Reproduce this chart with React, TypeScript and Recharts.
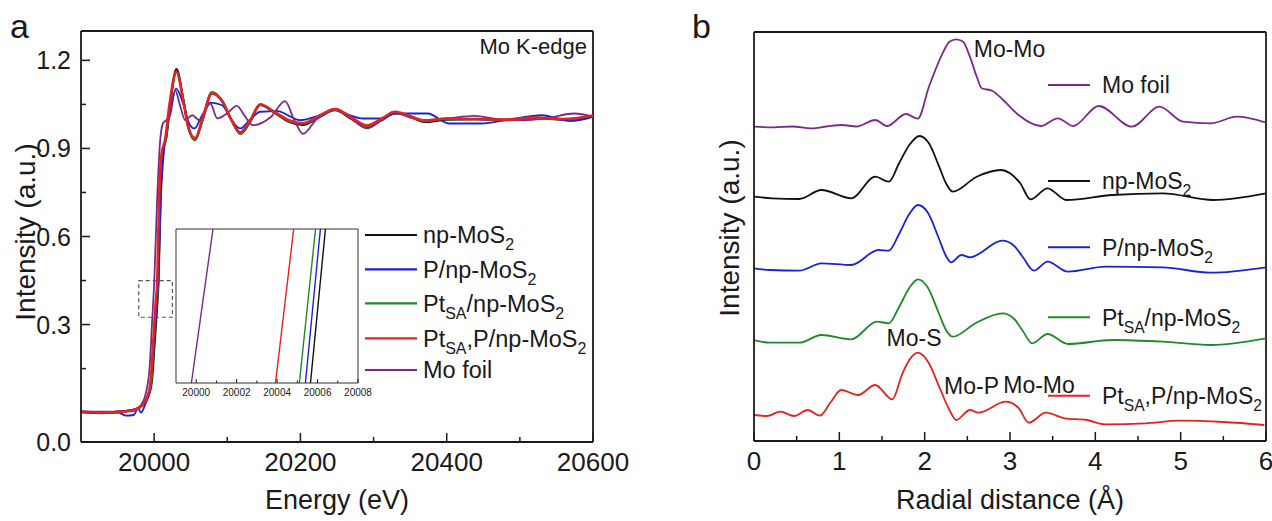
import React from 'react';
import { LineChart, Line, XAxis, YAxis, ReferenceLine, ReferenceArea } from 'recharts';

const FONT = '"Liberation Sans", Arial, Helvetica, sans-serif';
const INK = '#1a1a1a';

type Pt = [number, number];

// ---------- panel a: Mo K-edge XANES (energy eV, normalized intensity) ----------
const xanesNp: Pt[] = [
  [19900, 0.002], [19930, 0.0], [19960, 0.005], [19975, 0.012], [19985, 0.028], [19992, 0.055],
  [19997, 0.11], [20001, 0.25], [20004, 0.36], [20006, 0.45], [20009, 0.76], [20012, 0.89],
  [20016.5, 0.935], [20022, 1.05], [20030.5, 1.17], [20040, 1.065], [20047, 0.97], [20056, 0.93],
  [20066, 0.995], [20079, 1.09], [20093, 1.06], [20105, 1.0], [20118, 0.95], [20130, 0.985],
  [20145, 1.048], [20164, 1.022], [20185, 0.99], [20203, 0.98], [20225, 1.005], [20247, 1.03],
  [20270, 1.0], [20291, 0.972], [20310, 0.995], [20330, 1.02], [20350, 1.008], [20369, 0.99],
  [20400, 0.998], [20440, 1.0], [20480, 0.996], [20520, 1.003], [20560, 0.998], [20600, 1.01],
];
const xanesP: Pt[] = [
  [19900, 0.002], [19930, -0.002], [19950, 0.0], [19962, -0.01], [19972, -0.008], [19978, 0.015],
  [19982, 0.0], [19988, 0.03], [19994, 0.08], [19998, 0.18], [20002, 0.32], [20005.7, 0.45],
  [20009, 0.72], [20012, 0.85], [20017, 0.96], [20023, 1.04], [20030, 1.104], [20040, 1.05],
  [20047, 0.99], [20055, 0.968], [20065, 1.01], [20077, 1.056], [20093, 1.047], [20105, 1.0],
  [20118, 0.968], [20130, 0.995], [20145, 1.025], [20169, 1.027], [20185, 1.01], [20199, 0.996],
  [20225, 1.012], [20247, 1.034], [20265, 1.015], [20286, 1.002], [20310, 1.002], [20330, 1.019],
  [20374, 1.019], [20403, 0.985], [20447, 0.985], [20486, 0.999], [20530, 1.013], [20569, 0.993],
  [20600, 1.008],
];
const xanesPtSA: Pt[] = [
  [19900, 0.003], [19930, 0.001], [19960, 0.004], [19975, 0.011], [19984, 0.026], [19991, 0.052],
  [19996, 0.105], [20000, 0.25], [20003, 0.36], [20005.5, 0.45], [20008.3, 0.76], [20011.3, 0.885],
  [20016, 0.93], [20021.5, 1.048], [20030.5, 1.16], [20040, 1.062], [20047, 0.968], [20056, 0.928],
  [20066, 0.998], [20079, 1.092], [20093, 1.062], [20105, 1.0], [20118, 0.952], [20130, 0.988],
  [20145, 1.048], [20164, 1.024], [20185, 0.992], [20203, 0.984], [20225, 1.008], [20247, 1.032],
  [20270, 1.003], [20291, 0.975], [20310, 0.998], [20330, 1.022], [20350, 1.01], [20369, 0.993],
  [20400, 1.0], [20440, 1.0], [20480, 0.997], [20520, 1.004], [20560, 0.999], [20600, 1.011],
];
const xanesPtSAP: Pt[] = [
  [19900, 0.003], [19930, 0.0], [19960, 0.004], [19975, 0.01], [19983, 0.025], [19990, 0.05],
  [19995, 0.1], [19999, 0.25], [20002, 0.37], [20004.3, 0.45], [20007, 0.75], [20010, 0.88],
  [20015, 0.93], [20021, 1.05], [20030.5, 1.162], [20040, 1.06], [20047, 0.97], [20056, 0.935],
  [20066, 1.0], [20079, 1.087], [20093, 1.062], [20105, 1.0], [20118, 0.955], [20130, 0.99],
  [20145, 1.05], [20164, 1.025], [20185, 0.995], [20203, 0.986], [20225, 1.01], [20247, 1.034],
  [20270, 1.005], [20291, 0.978], [20310, 1.0], [20330, 1.025], [20350, 1.01], [20369, 0.995],
  [20400, 1.002], [20440, 1.0], [20480, 0.998], [20520, 1.005], [20560, 1.0], [20600, 1.012],
];
const xanesMoFoil: Pt[] = [
  [19900, 0.005], [19930, 0.003], [19960, 0.006], [19975, 0.012], [19983, 0.03], [19989, 0.07],
  [19994, 0.16], [19997, 0.3], [20000.2, 0.45], [20004, 0.72], [20008, 0.92], [20012, 0.985],
  [20016, 0.995], [20021.5, 1.01], [20028.8, 1.098], [20035, 1.05], [20042.5, 0.996], [20052, 1.013],
  [20062, 0.996], [20076.7, 1.053], [20086.4, 1.002], [20100, 1.02], [20113, 1.045], [20124, 1.01],
  [20135, 0.979], [20159.5, 1.007], [20179, 1.061], [20191, 1.0], [20203.4, 0.95], [20222.9, 1.002],
  [20249.7, 1.034], [20270, 1.0], [20291.3, 0.968], [20310, 0.995], [20327.8, 1.025], [20350, 1.005],
  [20369, 0.996], [20400, 1.002], [20437.6, 1.011], [20470, 1.0], [20506, 0.996], [20540, 1.005],
  [20574, 1.019], [20600, 1.008],
];

// inset: edge position (eV) where each curve crosses 0.40 and 0.50
const insetNp: Pt[] = [[20005.65, 0.4], [20006.39, 0.5]];
const insetP: Pt[] = [[20005.4, 0.4], [20006.14, 0.5]];
const insetPtSA: Pt[] = [[20005.1, 0.4], [20005.9, 0.5]];
const insetPtSAP: Pt[] = [[20003.92, 0.4], [20004.82, 0.5]];
const insetMoFoil: Pt[] = [[19999.76, 0.4], [20000.83, 0.5]];

const energyTicks = [20000, 20100, 20200, 20300, 20400, 20500, 20600];
const energyMajor = [20000, 20200, 20400, 20600];
const intensityTicks = [-0.1, 0.15, 0.3, 0.45, 0.6, 0.75, 0.9, 1.05, 1.2];
const intensityMajor = [-0.1, 0.3, 0.6, 0.9, 1.2];
const insetTicks = [20000, 20001, 20002, 20003, 20004, 20005, 20006, 20007, 20008];

// ---------- panel b: FT-EXAFS (R in Å, stacked curves) ----------
const ftMoFoil: Pt[] = [
  [0, 0.03], [0.23, -0.03], [0.45, 0.05], [0.67, -0.13], [0.85, 0.05], [1.03, 0.2], [1.2, 0.05],
  [1.42, 0.7], [1.56, 0.1], [1.78, 1.3], [1.92, 0.83], [2.05, 4.03], [2.21, 7.37], [2.29, 8.53],
  [2.37, 8.77], [2.45, 8.53], [2.53, 7.03], [2.61, 5.03], [2.67, 3.87], [2.79, 3.63], [2.92, 2.7],
  [3.1, 1.2], [3.36, 0.1], [3.56, 0.87], [3.74, 0.1], [4.04, 2.1], [4.43, 0.03], [4.75, 2.03],
  [5.03, 0.53], [5.35, 0.37], [5.66, 1.03], [6.0, 0.43],
];
const ftNp: Pt[] = [
  [0, 0.03], [0.21, -0.13], [0.53, -0.2], [0.79, 0.7], [1.14, -0.13], [1.42, 2.03], [1.58, 1.53],
  [1.7, 3.37], [1.82, 5.2], [1.94, 6.1], [2.05, 5.37], [2.17, 3.03], [2.25, 1.37], [2.33, 0.53],
  [2.61, 2.03], [2.89, 2.7], [3.0, 2.37], [3.12, 1.37], [3.24, -0.23], [3.44, 0.87], [3.66, -0.3],
  [4.2, 0.2], [4.79, 0.37], [5.38, -0.3], [6.0, 0.37],
];
const ftP: Pt[] = [
  [0, -0.03], [0.19, -0.2], [0.53, -0.27], [0.79, 0.47], [1.14, 0.3], [1.46, 1.8], [1.58, 1.73],
  [1.7, 3.4], [1.82, 5.4], [1.92, 6.3], [2.04, 5.5], [2.16, 3.1], [2.25, 1.2], [2.31, 0.57],
  [2.43, 1.3], [2.53, 1.07], [2.91, 2.73], [3.05, 2.2], [3.15, 1.1], [3.28, -0.27], [3.44, 0.63],
  [3.68, -0.37], [4.12, 0.13], [4.79, 0.07], [5.35, -0.47], [6.0, 0.07],
];
const ftPtSA: Pt[] = [
  [0, 0], [0.19, -0.27], [0.53, -0.27], [0.79, 0.5], [1.14, 0.07], [1.44, 1.83], [1.58, 1.67],
  [1.7, 3.3], [1.82, 5.2], [1.92, 6.07], [2.04, 5.2], [2.16, 2.8], [2.25, 1.0], [2.33, 0.33],
  [2.6, 1.7], [2.91, 2.67], [3.05, 2.1], [3.15, 0.9], [3.26, -0.33], [3.44, 0.6], [3.68, -0.4],
  [4.2, 0], [4.79, -0.17], [5.35, -0.5], [6.0, 0.17],
];
const ftPtSAP: Pt[] = [
  [0, 0], [0.15, -0.1], [0.31, 0.33], [0.47, -0.1], [0.63, 0.5], [0.77, -0.07], [0.9, 1.3],
  [1.02, 2.5], [1.22, 2.0], [1.42, 3.0], [1.62, 1.57], [1.74, 4.17], [1.82, 5.5], [1.92, 6.23],
  [2.05, 5.17], [2.17, 2.83], [2.29, 0.5], [2.37, -0.5], [2.53, 0.5], [2.63, 0.23], [2.95, 1.33],
  [3.1, 0.7], [3.22, -0.77], [3.42, 0.23], [3.64, -0.33], [3.9, -0.5], [4.12, -0.93], [4.59, -0.83],
  [4.99, -0.57], [5.5, -0.7], [5.98, -1.0],
];
const ftOffsets = { moFoil: 31.4, np: 24.4, p: 17.3, ptSA: 10.1, ptSAP: 2.6 };
const radialTicks = [0, 0.5, 1, 1.5, 2, 2.5, 3, 3.5, 4, 4.5, 5, 5.5, 6];

const C = { np: '#111111', p: '#1c22d4', ptSA: '#1f8a2a', ptSAP: '#e2231f', moFoil: '#7b2a8c' };

const rows = (pts: Pt[], off = 0) => pts.map(([x, y]) => ({ x, y: y + off }));

// text parts: [text, isSubscript]
type Part = [string, boolean?];
const NAMES: Record<string, Part[]> = {
  np: [['np-MoS'], ['2', true]],
  p: [['P/np-MoS'], ['2', true]],
  ptSA: [['Pt'], ['SA', true], ['/np-MoS'], ['2', true]],
  ptSAP: [['Pt'], ['SA', true], [',P/np-MoS'], ['2', true]],
  moFoil: [['Mo foil']],
};

function Rich({ x, y, parts, size, anchor = 'start' }: { x: number; y: number; parts: Part[]; size: number; anchor?: string }) {
  const shift = size * 0.3;
  let sub = false;
  return (
    <text x={x} y={y} fontSize={size} fontFamily={FONT} fill={INK} textAnchor={anchor as any}>
      {parts.map(([t, s], i) => {
        const dy = s && !sub ? shift : !s && sub ? -shift : 0;
        sub = !!s;
        return (
          <tspan key={i} dy={dy} fontSize={s ? size * 0.68 : size}>
            {t}
          </tspan>
        );
      })}
    </text>
  );
}

const makeXTick = (majors: number[], len: number, minorLen: number, fs: number, dy: number, sw: number) =>
  (p: any) => {
    const v = p.payload.value;
    const major = majors.includes(v);
    return (
      <g>
        <line x1={p.x} x2={p.x} y1={p.y} y2={p.y - (major ? len : minorLen)} stroke={INK} strokeWidth={sw} />
        {major && (
          <text x={p.x} y={p.y + dy} textAnchor="middle" fontSize={fs} fontFamily={FONT} fill={INK}>
            {v}
          </text>
        )}
      </g>
    );
  };

const YTickA = (p: any) => {
  const v = p.payload.value;
  const major = intensityMajor.includes(v);
  return (
    <g>
      {v > -0.1 && <line x1={p.x} x2={p.x + (major ? 9 : 5)} y1={p.y} y2={p.y} stroke={INK} strokeWidth={1.5} />}
      {major && (
        <text x={p.x - 10} y={p.y + 9} textAnchor="end" fontSize={25} fontFamily={FONT} fill={INK}>
          {v === -0.1 ? '0.0' : v.toFixed(1)}
        </text>
      )}
    </g>
  );
};

const axisStyle = { stroke: INK, strokeWidth: 1.8 };

export default function App() {
  const aSeries = [
    { key: 'np', pts: xanesNp, w: 2.2 },
    { key: 'ptSA', pts: xanesPtSA, w: 2.2 },
    { key: 'p', pts: xanesP, w: 1.8 },
    { key: 'moFoil', pts: xanesMoFoil, w: 1.8 },
    { key: 'ptSAP', pts: xanesPtSAP, w: 2.6 },
  ];
  const insetSeries = [
    { key: 'moFoil', pts: insetMoFoil },
    { key: 'ptSAP', pts: insetPtSAP },
    { key: 'ptSA', pts: insetPtSA },
    { key: 'p', pts: insetP },
    { key: 'np', pts: insetNp },
  ];
  const bSeries = [
    { key: 'moFoil', pts: ftMoFoil, off: ftOffsets.moFoil },
    { key: 'np', pts: ftNp, off: ftOffsets.np },
    { key: 'p', pts: ftP, off: ftOffsets.p },
    { key: 'ptSA', pts: ftPtSA, off: ftOffsets.ptSA },
    { key: 'ptSAP', pts: ftPtSAP, off: ftOffsets.ptSAP },
  ];
  const legendA = [
    { key: 'np', y: 235 },
    { key: 'p', y: 269.3 },
    { key: 'ptSA', y: 303.3 },
    { key: 'ptSAP', y: 338.3 },
    { key: 'moFoil', y: 370 },
  ];
  const legendB = [
    { key: 'moFoil', y: 85 },
    { key: 'np', y: 181 },
    { key: 'p', y: 247.3 },
    { key: 'ptSA', y: 317.3 },
    { key: 'ptSAP', y: 395.7 },
  ];

  return (
    <div style={{ position: 'absolute', left: 0, top: 0, width: 1272, height: 521, background: '#fff', fontFamily: FONT }}>
      {/* panel a */}
      <div style={{ position: 'absolute', left: 0, top: 0 }}>
        <LineChart width={640} height={521} margin={{ top: 31, right: 47, bottom: 49, left: 21 }}>
          <XAxis
            type="number" dataKey="x" domain={[19900, 20600]} ticks={energyTicks} interval={0}
            tickSize={0} tickMargin={0} height={30} axisLine={axisStyle} tickLine={false}
            tick={makeXTick(energyMajor, 9, 5, 26, 29, 1.5)} allowDataOverflow
          />
          <YAxis
            type="number" domain={[-0.1, 1.3]} ticks={intensityTicks} interval={0} width={60}
            tickSize={0} tickMargin={0} axisLine={axisStyle} tickLine={false} tick={YTickA} allowDataOverflow
          />
          <ReferenceLine y={1.3} stroke={INK} strokeWidth={1.8} />
          <ReferenceLine x={20600} stroke={INK} strokeWidth={1.8} />
          <ReferenceArea x1={19979} x2={20025} y1={0.325} y2={0.45} fill="none" stroke="#555" strokeWidth={1.2} strokeDasharray="4 3" />
          {aSeries.map((s) => (
            <Line
              key={s.key} data={rows(s.pts)} dataKey="y" type="monotone" stroke={(C as any)[s.key]}
              strokeWidth={s.w} dot={false} activeDot={false} isAnimationActive={false}
            />
          ))}
        </LineChart>
      </div>

      {/* inset of panel a */}
      <div style={{ position: 'absolute', left: 165, top: 225 }}>
        <LineChart width={225} height={185} margin={{ top: 4, right: 32, bottom: 7, left: 11 }}>
          <XAxis
            type="number" dataKey="x" domain={[19999, 20008]} ticks={insetTicks} interval={0}
            tickSize={0} tickMargin={0} height={20} axisLine={{ stroke: '#333', strokeWidth: 1 }} tickLine={false}
            tick={makeXTick([20000, 20002, 20004, 20006, 20008], 4, 2.5, 10, 13, 1)} allowDataOverflow
          />
          <YAxis hide type="number" domain={[0.4, 0.5]} allowDataOverflow />
          <ReferenceLine y={0.5} stroke="#333" strokeWidth={1} />
          <ReferenceLine x={19999} stroke="#333" strokeWidth={1} />
          <ReferenceLine x={20008} stroke="#333" strokeWidth={1} />
          {insetSeries.map((s) => (
            <Line
              key={s.key} data={rows(s.pts)} dataKey="y" type="linear" stroke={(C as any)[s.key]}
              strokeWidth={1.4} dot={false} activeDot={false} isAnimationActive={false}
            />
          ))}
        </LineChart>
      </div>

      {/* panel b */}
      <div style={{ position: 'absolute', left: 660, top: 0 }}>
        <LineChart width={612} height={521} margin={{ top: 32, right: 6, bottom: 50, left: 93 }}>
          <XAxis
            type="number" dataKey="x" domain={[0, 6]} ticks={radialTicks} interval={0}
            tickSize={0} tickMargin={0} height={30} axisLine={axisStyle} tickLine={false}
            tick={makeXTick([0, 1, 2, 3, 4, 5, 6], 9, 5, 26, 29, 1.5)} allowDataOverflow
          />
          <YAxis type="number" domain={[0, 40.9]} width={1} tick={false} tickLine={false} axisLine={axisStyle} allowDataOverflow />
          <ReferenceLine y={40.9} stroke={INK} strokeWidth={1.8} />
          <ReferenceLine x={6} stroke={INK} strokeWidth={1.8} />
          {bSeries.map((s) => (
            <Line
              key={s.key} data={rows(s.pts, s.off)} dataKey="y" type="monotone" stroke={(C as any)[s.key]}
              strokeWidth={1.8} dot={false} activeDot={false} isAnimationActive={false}
            />
          ))}
        </LineChart>
      </div>

      {/* labels, legends, titles */}
      <svg width={1272} height={521} style={{ position: 'absolute', left: 0, top: 0, pointerEvents: 'none' }}>
        <text x={10} y={38} fontSize={34} fontFamily={FONT} fill={INK}>a</text>
        <text x={692} y={38} fontSize={34} fontFamily={FONT} fill={INK}>b</text>

        <text x={587} y={54} textAnchor="end" fontSize={22} fontFamily={FONT} fill={INK}>Mo K-edge</text>

        <text x={337} y={509} textAnchor="middle" fontSize={27} fontFamily={FONT} fill={INK}>Energy (eV)</text>
        <text x={1010} y={509} textAnchor="middle" fontSize={27} fontFamily={FONT} fill={INK}>Radial distance (Å)</text>
        <text transform="translate(35,232) rotate(-90)" textAnchor="middle" fontSize={28} fontFamily={FONT} fill={INK}>Intensity (a.u.)</text>
        <text transform="translate(739,228) rotate(-90)" textAnchor="middle" fontSize={28} fontFamily={FONT} fill={INK}>Intensity (a.u.)</text>

        {legendA.map((l) => (
          <g key={l.key}>
            <line x1={365} x2={417} y1={l.y} y2={l.y} stroke={(C as any)[l.key]} strokeWidth={2.2} />
            <Rich x={423} y={l.y + 8.3} parts={NAMES[l.key]} size={23.5} />
          </g>
        ))}
        {legendB.map((l) => (
          <g key={l.key}>
            <line x1={1048} x2={1090} y1={l.y} y2={l.y} stroke={(C as any)[l.key]} strokeWidth={2} />
            <Rich x={1102} y={l.y + 8.3} parts={NAMES[l.key]} size={23} />
          </g>
        ))}

        <text x={1009.5} y={56.5} textAnchor="middle" fontSize={23} fontFamily={FONT} fill={INK}>Mo-Mo</text>
        <text x={914} y={345.5} textAnchor="middle" fontSize={23} fontFamily={FONT} fill={INK}>Mo-S</text>
        <text x={971.5} y={393.5} textAnchor="middle" fontSize={23} fontFamily={FONT} fill={INK}>Mo-P</text>
        <text x={1039} y={393} textAnchor="middle" fontSize={23} fontFamily={FONT} fill={INK}>Mo-Mo</text>
      </svg>
    </div>
  );
}
